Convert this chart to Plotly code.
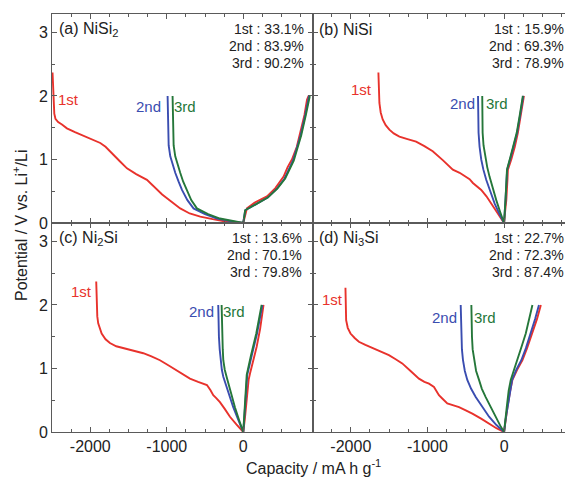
import plotly.graph_objects as go

# ---------------- data (capacity mA h g-1, potential V) ----------------
# (a) NiSi2
a1_cap = [-2493, -2487, -2480, -2470, -2455, -2420, -2370, -2305, -2200, -2080, -1960, -1869, -1800, -1739, -1680, -1620, -1520, -1400, -1259, -1190, -1128, -1060, -997, -900, -824, -700, -562, -400, -213, 0,
          20, 48, 150, 310, 420, 527, 580, 636, 700, 745, 800, 833, 854]
a1_pot = [2.37, 2.15, 1.90, 1.72, 1.64, 1.59, 1.55, 1.49, 1.43, 1.37, 1.31, 1.26, 1.20, 1.13, 1.05, 0.98, 0.86, 0.77, 0.68, 0.60, 0.52, 0.45, 0.39, 0.30, 0.23, 0.15, 0.10, 0.06, 0.02, 0.0,
          0.12, 0.23, 0.32, 0.42, 0.55, 0.73, 0.88, 1.00, 1.20, 1.42, 1.70, 1.94, 2.00]
a2_cap = [-989, -987, -985, -975, -954, -925, -889, -845, -801, -730, -650, -500, -344, -170, 0,
          25, 150, 320, 440, 540, 650, 750, 810, 850, 860]
a2_pot = [2.00, 1.75, 1.42, 1.22, 1.05, 0.92, 0.79, 0.65, 0.52, 0.36, 0.23, 0.14, 0.07, 0.03, 0.0,
          0.20, 0.29, 0.40, 0.54, 0.70, 0.98, 1.38, 1.70, 1.96, 2.00]
a3_cap = [-924, -922, -920, -910, -889, -860, -824, -785, -741, -680, -606, -460, -305, -150, 0,
          25, 150, 320, 445, 548, 660, 758, 818, 858, 870]
a3_pot = [2.00, 1.75, 1.42, 1.22, 1.05, 0.92, 0.79, 0.65, 0.52, 0.36, 0.23, 0.14, 0.07, 0.03, 0.0,
          0.20, 0.29, 0.40, 0.54, 0.70, 0.98, 1.38, 1.70, 1.96, 2.00]

# (b) NiSi
b1_cap = [-1640, -1636, -1627, -1610, -1584, -1545, -1497, -1440, -1366, -1260, -1148, -1040, -931, -800, -669, -580, -494, -450, -407, -350, -298, -230, -167, -80, 0,
          15, 29, 45, 50, 94, 140, 180, 225, 259]
b1_pot = [2.37, 2.15, 1.89, 1.74, 1.63, 1.54, 1.47, 1.41, 1.36, 1.32, 1.28, 1.21, 1.13, 0.99, 0.84, 0.79, 0.73, 0.69, 0.63, 0.57, 0.52, 0.42, 0.31, 0.15, 0.0,
          0.20, 0.36, 0.70, 0.84, 1.00, 1.20, 1.42, 1.72, 2.00]
b2_cap = [-340, -338, -333, -320, -298, -270, -233, -180, -124, -60, 0,
          20, 40, 90, 130, 170, 210, 250]
b2_pot = [2.00, 1.75, 1.42, 1.20, 1.00, 0.84, 0.68, 0.50, 0.31, 0.14, 0.0,
          0.40, 0.84, 1.05, 1.22, 1.42, 1.70, 2.00]
b3_cap = [-285, -283, -280, -268, -246, -220, -190, -150, -102, -50, 0,
          20, 38, 85, 125, 165, 205, 245]
b3_pot = [2.00, 1.75, 1.42, 1.22, 1.05, 0.88, 0.73, 0.55, 0.36, 0.17, 0.0,
          0.40, 0.84, 1.05, 1.22, 1.42, 1.70, 2.00]

# (c) Ni2Si
c1_cap = [-1922, -1920, -1917, -1908, -1896, -1875, -1851, -1800, -1743, -1660, -1569, -1440, -1307, -1200, -1089, -980, -871, -780, -697, -590, -475, -430, -392, -350, -305, -240, -174, -90, 0,
          20, 44, 70, 88, 130, 175, 220, 262, 265]
c1_pot = [2.37, 2.20, 1.97, 1.82, 1.71, 1.62, 1.55, 1.46, 1.40, 1.35, 1.32, 1.28, 1.24, 1.19, 1.13, 1.05, 0.97, 0.90, 0.84, 0.79, 0.74, 0.66, 0.58, 0.53, 0.47, 0.36, 0.24, 0.12, 0.0,
          0.20, 0.50, 0.82, 0.92, 1.12, 1.34, 1.62, 1.97, 2.00]
c2_cap = [-327, -325, -318, -308, -297, -280, -261, -200, -131, -65, 0,
          18, 35, 52, 110, 180, 250]
c2_pot = [2.00, 1.80, 1.50, 1.30, 1.13, 0.98, 0.87, 0.63, 0.39, 0.19, 0.0,
          0.30, 0.60, 0.90, 1.20, 1.55, 2.00]
c3_cap = [-283, -281, -275, -268, -261, -242, -218, -165, -109, -55, 0,
          15, 30, 45, 100, 170, 240]
c3_pot = [2.00, 1.80, 1.50, 1.30, 1.13, 0.98, 0.87, 0.63, 0.39, 0.19, 0.0,
          0.30, 0.60, 0.90, 1.20, 1.55, 2.00]

# (d) Ni3Si
d1_cap = [-2070, -2067, -2061, -2040, -2004, -1950, -1895, -1810, -1721, -1610, -1503, -1420, -1329, -1220, -1111, -1040, -980, -915, -880, -850, -800, -741, -660, -588, -500, -414, -300, -196, -100, 0,
          20, 44, 80, 109, 170, 240, 300, 370, 430, 480]
d1_pot = [2.27, 2.05, 1.76, 1.64, 1.55, 1.48, 1.42, 1.37, 1.32, 1.27, 1.21, 1.15, 1.08, 0.96, 0.84, 0.79, 0.76, 0.71, 0.64, 0.58, 0.52, 0.45, 0.42, 0.39, 0.34, 0.29, 0.21, 0.13, 0.06, 0.0,
          0.20, 0.39, 0.65, 0.82, 0.98, 1.13, 1.32, 1.55, 1.78, 2.00]
d2_cap = [-566, -564, -558, -550, -536, -512, -480, -430, -370, -290, -196, -100, 0,
          20, 44, 80, 105, 160, 225, 285, 350, 405, 455]
d2_pot = [2.00, 1.80, 1.50, 1.30, 1.13, 0.96, 0.82, 0.68, 0.55, 0.40, 0.24, 0.11, 0.0,
          0.20, 0.39, 0.65, 0.82, 0.98, 1.13, 1.32, 1.55, 1.78, 2.00]
d3_cap = [-427, -425, -419, -410, -392, -365, -327, -290, -240, -180, -109, -50, 0,
          15, 35, 60, 87, 130, 174, 230, 283, 330, 370]
d3_pot = [2.00, 1.80, 1.50, 1.30, 1.13, 0.96, 0.82, 0.68, 0.55, 0.40, 0.24, 0.10, 0.0,
          0.20, 0.39, 0.65, 0.82, 0.98, 1.13, 1.35, 1.55, 1.78, 2.00]

panel_titles = ["(a) NiSi<sub>2</sub>", "(b) NiSi", "(c) Ni<sub>2</sub>Si", "(d) Ni<sub>3</sub>Si"]
efficiencies = [["33.1", "83.9", "90.2"], ["15.9", "69.3", "78.9"],
                ["13.6", "70.1", "79.8"], ["22.7", "72.3", "87.4"]]
cycle_names = ["1st", "2nd", "3rd"]
# curve-label positions (capacity, potential) per panel
label_pos = [
    [(-2290, 1.94), (-1242, 1.83), (-758, 1.83)],
    [(-1862, 2.10), (-542, 1.88), (-98, 1.88)],
    [(-2120, 2.21), (-544, 1.90), (-122, 1.90)],
    [(-2235, 2.09), (-784, 1.81), (-245, 1.81)],
]

x_tickvals = [-2000, -1000, 0]
x_ticktext = ["-2000", "-1000", "0"]
y_tickvals = [0, 1, 2, 3]

panels = [
    [(a1_cap, a1_pot), (a2_cap, a2_pot), (a3_cap, a3_pot)],
    [(b1_cap, b1_pot), (b2_cap, b2_pot), (b3_cap, b3_pot)],
    [(c1_cap, c1_pot), (c2_cap, c2_pot), (c3_cap, c3_pot)],
    [(d1_cap, d1_pot), (d2_cap, d2_pot), (d3_cap, d3_pot)],
]

colors = ["#e8322c", "#3a4db0", "#25773a"]
label_colors = ["#e8322c", "#3a4db0", "#25773a"]

W, H = 565, 480
def fx(px):
    return px / W
def fy(py):
    return 1 - py / H

x_left = [fx(52), fx(312.5)]
x_right = [fx(312.5), 1.0]
y_top = [fy(223), fy(14)]
y_bot = [fy(432), fy(223)]

domains = [(x_left, y_top), (x_right, y_top), (x_left, y_bot), (x_right, y_bot)]
x_ranges = [[-2500, 905], [-2500, 795], [-2500, 905], [-2500, 795]]

fig = go.Figure()
FONT = "Liberation Sans, Arial, sans-serif"
axcol = "#5a5a5a"

for i, series in enumerate(panels):
    xa = "x" if i == 0 else f"x{i+1}"
    ya = "y" if i == 0 else f"y{i+1}"
    for k, (cap, pot) in enumerate(series):
        fig.add_trace(go.Scatter(x=cap, y=pot, mode="lines", xaxis=xa, yaxis=ya,
                                 line=dict(color=colors[k], width=1.9),
                                 showlegend=False, hoverinfo="skip"))
    dx, dy = domains[i]
    is_left = i in (0, 2)
    is_bottom = i in (2, 3)
    xkey = "xaxis" if i == 0 else f"xaxis{i+1}"
    ykey = "yaxis" if i == 0 else f"yaxis{i+1}"
    fig.layout[xkey] = dict(
        domain=dx, anchor=ya, range=x_ranges[i], showgrid=False, zeroline=False,
        showline=True, linecolor=axcol, linewidth=1, mirror="ticks",
        ticks="inside", ticklen=5, tickcolor=axcol, tickwidth=1,
        tickvals=x_tickvals, ticktext=x_ticktext, showticklabels=is_bottom,
        tickfont=dict(size=16, color="#222", family=FONT),
        minor=dict(dtick=250, tick0=0, ticks="inside", ticklen=3, tickcolor=axcol, showgrid=False),
    )
    fig.layout[ykey] = dict(
        domain=dy, anchor=xa, range=[0, 3.29], showgrid=False, zeroline=False,
        showline=True, linecolor=axcol, linewidth=1, mirror="ticks" if is_left else False,
        ticks="inside", ticklen=5, tickcolor=axcol, tickwidth=1,
        tickvals=y_tickvals, showticklabels=is_left,
        tickfont=dict(size=16, color="#222", family=FONT),
        minor=dict(dtick=0.5, tick0=0, ticks="inside", ticklen=3, tickcolor=axcol, showgrid=False),
    )

annotations = []
title_px = [(57, 29), (317, 29), (57, 238), (317, 238)]
eff_right = [306, 566, 304, 566]
for i in range(4):
    tx, ty = title_px[i]
    annotations.append(dict(xref="paper", yref="paper", x=fx(tx), y=fy(ty),
                            xanchor="left", yanchor="middle", showarrow=False,
                            text=panel_titles[i], font=dict(size=16, color="#222", family=FONT)))
    for k in range(3):
        annotations.append(dict(xref="paper", yref="paper", x=fx(eff_right[i]), y=fy(ty + 17 * k),
                                xanchor="right", yanchor="middle", showarrow=False,
                                text=f"{cycle_names[k]} : {efficiencies[i][k]}%",
                                font=dict(size=14, color="#222", family=FONT)))
    xa = "x" if i == 0 else f"x{i+1}"
    ya = "y" if i == 0 else f"y{i+1}"
    for k in range(3):
        lx, ly = label_pos[i][k]
        annotations.append(dict(xref=xa, yref=ya, x=lx, y=ly, xanchor="center", yanchor="middle",
                                showarrow=False, text=cycle_names[k],
                                font=dict(size=15, color=label_colors[k], family=FONT)))

annotations.append(dict(xref="paper", yref="paper", x=fx(313), y=fy(467), xanchor="center",
                        yanchor="middle", showarrow=False,
                        text="Capacity / mA h g<sup>-1</sup>",
                        font=dict(size=16, color="#222", family=FONT)))
annotations.append(dict(xref="paper", yref="paper", x=fx(20), y=fy(225), xanchor="center",
                        yanchor="middle", showarrow=False, textangle=-90,
                        text="Potential / V vs. Li<sup>+</sup>/Li",
                        font=dict(size=16, color="#222", family=FONT)))

fig.update_layout(width=W, height=H, margin=dict(l=0, r=0, t=0, b=0, autoexpand=False),
                  plot_bgcolor="white", paper_bgcolor="white", annotations=annotations,
                  font=dict(family=FONT))

fig.write_html("out.html", config={"displayModeBar": False},
               post_script="document.body.style.margin='0';document.body.style.overflow='hidden';")
